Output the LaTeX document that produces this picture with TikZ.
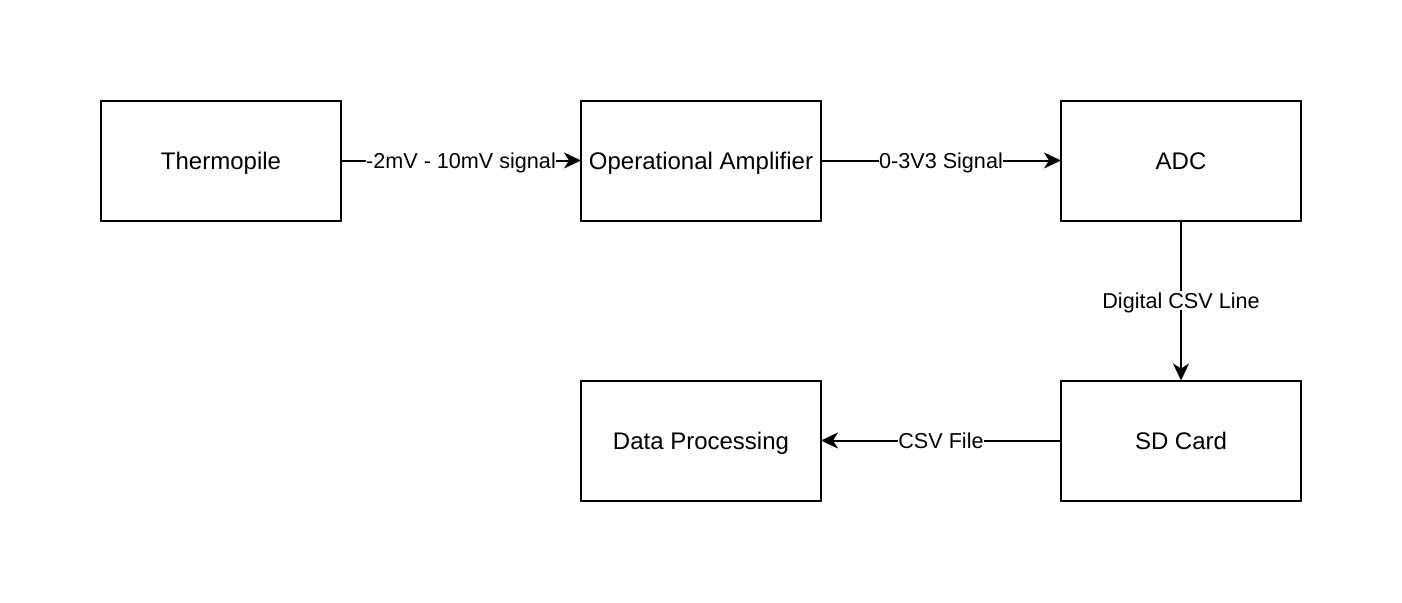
\documentclass[tikz,border=0pt]{standalone}
\usepackage{fontspec}
\setmainfont{Liberation Sans}
\usetikzlibrary{positioning,arrows.meta}
\tikzset{block/.style={rectangle,draw,line width=1pt,minimum width=120pt,minimum height=60pt,inner sep=0pt,outer sep=0pt,text height=8.6pt,text depth=0pt,font=\fontsize{12}{14}\selectfont},
	 sig/.style={line width=1pt,-{Stealth[length=8.5pt,width=8pt,inset=2.5pt]}},
	 siglabel/.style={fill=white,inner xsep=0pt,inner ysep=1pt,text height=7.8pt,text depth=0pt,font=\fontsize{10.8}{12}\selectfont},
	 node distance = 120pt
	 }

\begin{document}
\begin{tikzpicture}[x=0.5pt,y=-0.5pt] % thermopile logger chain
	\useasboundingbox (0,0) rectangle (1402,602);
	\node[block] (thermo) at (221,160.5) {Thermopile};
	\node[block] (opamp) [right= of thermo] {Operational Amplifier};
	\node[block] (adc) [right= of opamp] {ADC};
	\node[block] (sd) [below=80pt of adc] {SD Card};
	\node[block] (proc) [left= of sd] {Data Processing};
	\draw [sig] (thermo) to node[siglabel] {-2mV - 10mV signal} (opamp);
	\draw [sig] (opamp) to node[siglabel] {0-3V3 Signal} (adc);
	\draw [sig] (adc) to node[siglabel] {Digital CSV Line} (sd);
	\draw [sig] (sd) to node[siglabel] {CSV File} (proc);
\end{tikzpicture}
\end{document}
